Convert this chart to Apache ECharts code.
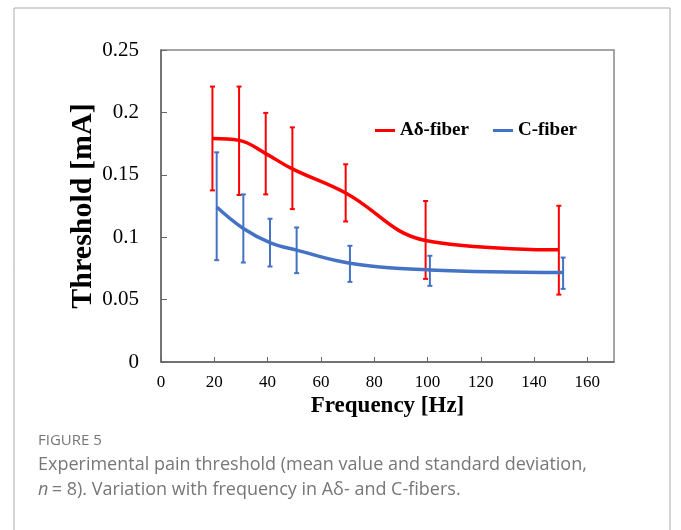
<!DOCTYPE html>
<html>
<head>
<meta charset="utf-8">
<script src="https://cdn.jsdelivr.net/npm/echarts@6/dist/echarts.min.js"></script>
<style>
  html, body { margin: 0; padding: 0; background: #fff; }
  #main { width: 681px; height: 530px; }
</style>
</head>
<body>
<div id="main"></div>
<script>
// A-delta fiber (points drawn slightly left of the nominal frequency)
var freqA = [19.3, 29.3, 39.3, 49.3, 69.3, 99.3, 149.3];
var meanA = [0.179, 0.1776, 0.167, 0.1547, 0.1354, 0.0974, 0.0899];
var lowA = [0.1375, 0.1338, 0.1343, 0.1225, 0.1126, 0.0666, 0.054];
var highA = [0.2207, 0.2207, 0.1996, 0.188, 0.1584, 0.129, 0.1252];

// C fiber (points drawn slightly right)
var freqC = [20.9, 30.9, 40.9, 50.9, 70.9, 100.9, 150.9];
var meanC = [0.1242, 0.107, 0.0957, 0.0896, 0.0792, 0.0738, 0.0717];
var lowC = [0.0816, 0.0797, 0.0765, 0.0712, 0.0642, 0.061, 0.0586];
var highC = [0.168, 0.1343, 0.1148, 0.1078, 0.0931, 0.0851, 0.0837];

var yTicks = [0, 0.05, 0.1, 0.15, 0.2, 0.25];

function pairs(xs, ys) {
  return xs.map(function (x, i) { return [x, ys[i]]; });
}
function bars(xs, lo, hi) {
  return xs.map(function (x, i) { return [x, lo[i], hi[i]]; });
}

function errorBar(color) {
  return function (params, api) {
    var top = api.coord([api.value(0), api.value(2)]);
    var bot = api.coord([api.value(0), api.value(1)]);
    var cap = 2.5;
    var st = { stroke: color, lineWidth: 2 };
    return {
      type: 'group',
      children: [
        { type: 'line', shape: { x1: top[0], y1: top[1], x2: bot[0], y2: bot[1] }, style: st },
        { type: 'line', shape: { x1: top[0] - cap, y1: top[1], x2: top[0] + cap, y2: top[1] }, style: st },
        { type: 'line', shape: { x1: bot[0] - cap, y1: bot[1], x2: bot[0] + cap, y2: bot[1] }, style: st }
      ]
    };
  };
}

var serif = '"Liberation Serif", "Times New Roman", serif';
var sans = '"Open Sans", sans-serif';
var chart = echarts.init(document.getElementById('main'));
chart.setOption({
  animation: false,
  graphic: [
    { type: 'rect', shape: { x: 14, y: 8, width: 656, height: 530 },
      style: { fill: 'none', stroke: '#aaaaaa', lineWidth: 1 }, z: -1 },
    { type: 'text', left: 38, top: 433,
      style: { text: 'FIGURE 5', font: '15px ' + sans, fill: '#777777' } },
    { type: 'text', left: 38, top: 456,
      style: { text: 'Experimental pain threshold (mean value and standard deviation,',
               font: '18px ' + sans, fill: '#777777' } },
    { type: 'text', left: 38, top: 481,
      style: { rich: { i: { fontStyle: 'italic', fontFamily: sans, fontSize: 18, fill: '#777777' },
                       n: { fontFamily: sans, fontSize: 18, fill: '#777777' } },
               text: '{i|n} {n|= 8). Variation with frequency in A\u03b4- and C-fibers.}' } }
  ],
  legend: {
    left: 375,
    top: 121,
    padding: 0,
    itemWidth: 20,
    itemHeight: 3,
    itemGap: 24,
    icon: 'rect',
    data: ['A\u03b4-fiber', 'C-fiber'],
    textStyle: { fontFamily: serif, fontWeight: 'bold', fontSize: 19, color: '#000' }
  },
  grid: {
    left: 161, top: 50, right: 67, bottom: 168,
    show: true, borderColor: '#888888', borderWidth: 1.5
  },
  xAxis: {
    type: 'value',
    min: 0, max: 170, interval: 20,
    name: 'Frequency [Hz]',
    nameLocation: 'middle',
    nameGap: 33,
    nameMoveOverlap: false,
    nameTextStyle: { fontFamily: serif, fontWeight: 'bold', fontSize: 23, color: '#000' },
    axisLine: { show: true, lineStyle: { color: '#666666', width: 1.5 } },
    axisTick: { show: true, inside: true, length: 5, lineStyle: { color: '#666666' } },
    axisLabel: { fontFamily: serif, fontSize: 17, color: '#000', margin: 12, showMaxLabel: false },
    splitLine: { show: false }
  },
  yAxis: {
    type: 'value',
    min: yTicks[0], max: yTicks[yTicks.length - 1], interval: 0.05,
    name: 'Threshold [mA]',
    nameLocation: 'middle',
    nameGap: 63,
    nameMoveOverlap: false,
    nameTextStyle: { fontFamily: serif, fontWeight: 'bold', fontSize: 30, color: '#000' },
    axisLine: { show: true, lineStyle: { color: '#666666', width: 1.5 } },
    axisTick: { show: true, inside: true, length: 6, lineStyle: { color: '#666666' } },
    axisLabel: { fontFamily: serif, fontSize: 21, color: '#000', margin: 22 },
    splitLine: { show: false }
  },
  series: [
    {
      name: 'A\u03b4-fiber', type: 'line', smooth: 0.4, symbol: 'none',
      data: pairs(freqA, meanA),
      lineStyle: { color: '#ff0000', width: 3.5 }, itemStyle: { color: '#ff0000' }, z: 3
    },
    {
      name: 'C-fiber', type: 'line', smooth: 0.4, symbol: 'none',
      data: pairs(freqC, meanC),
      lineStyle: { color: '#4472c4', width: 3.5 }, itemStyle: { color: '#4472c4' }, z: 3
    },
    {
      type: 'custom', renderItem: errorBar('#ff0000'),
      data: bars(freqA, lowA, highA), encode: { x: 0, y: [1, 2] }, z: 2
    },
    {
      type: 'custom', renderItem: errorBar('#4472c4'),
      data: bars(freqC, lowC, highC), encode: { x: 0, y: [1, 2] }, z: 2
    }
  ]
});
</script>
</body>
</html>
